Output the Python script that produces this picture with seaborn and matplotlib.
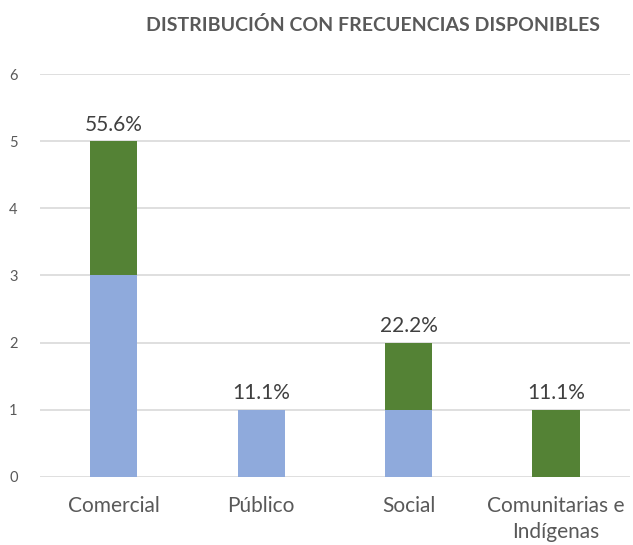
import matplotlib
matplotlib.use("Agg")
import matplotlib.pyplot as plt
import seaborn as sns
import pandas as pd

categorias = ["Comercial", "Público", "Social", "Comunitarias e\nIndígenas"]
azul = [3, 1, 1, 0]
verde = [2, 0, 1, 1]
etiquetas = ["55.6%", "11.1%", "22.2%", "11.1%"]

df = pd.DataFrame({"cat": categorias, "azul": azul, "verde": verde})
df["total"] = df["azul"] + df["verde"]

sns.set_style("white")
plt.rcParams["font.family"] = ["Lato", "DejaVu Sans"]
gris = "#595959"

fig = plt.figure(figsize=(6.33, 5.45), dpi=100)
ax = fig.add_axes([0.063, 0.125, 0.932, 0.739])

# stacked: draw totals in green, then blue part over it
sns.barplot(data=df, x="cat", y="total", color="#548235", saturation=1, width=0.32,
            linewidth=0, ax=ax, zorder=3)
sns.barplot(data=df, x="cat", y="azul", color="#8FAADC", saturation=1, width=0.32,
            linewidth=0, ax=ax, zorder=3)

for i, (t, lab) in enumerate(zip(df["total"], etiquetas)):
    ax.text(i, t + 0.1, lab, ha="center", va="bottom", fontsize=15, color="#404040")

ax.set_ylim(0, 6)
ax.set_xlim(-0.5, 3.5)
ax.set_yticks(range(0, 7))
ax.yaxis.grid(True, color="#D9D9D9", linewidth=1.2, zorder=0)
ax.set_axisbelow(True)
for s in ax.spines.values():
    s.set_visible(False)
ax.tick_params(axis="y", length=0, labelsize=10.5, colors=gris, pad=16)
ax.tick_params(axis="x", length=0, labelsize=15, colors=gris, pad=14)
for t in ax.get_xticklabels():
    t.set_linespacing(1.35)
ax.set_xlabel("")
ax.set_ylabel("")

fig.text(0.59, 0.955, "DISTRIBUCIÓN CON FRECUENCIAS DISPONIBLES", ha="center", va="center",
         fontsize=14, fontweight="bold", color=gris)

fig.savefig("out.png", dpi=100)
